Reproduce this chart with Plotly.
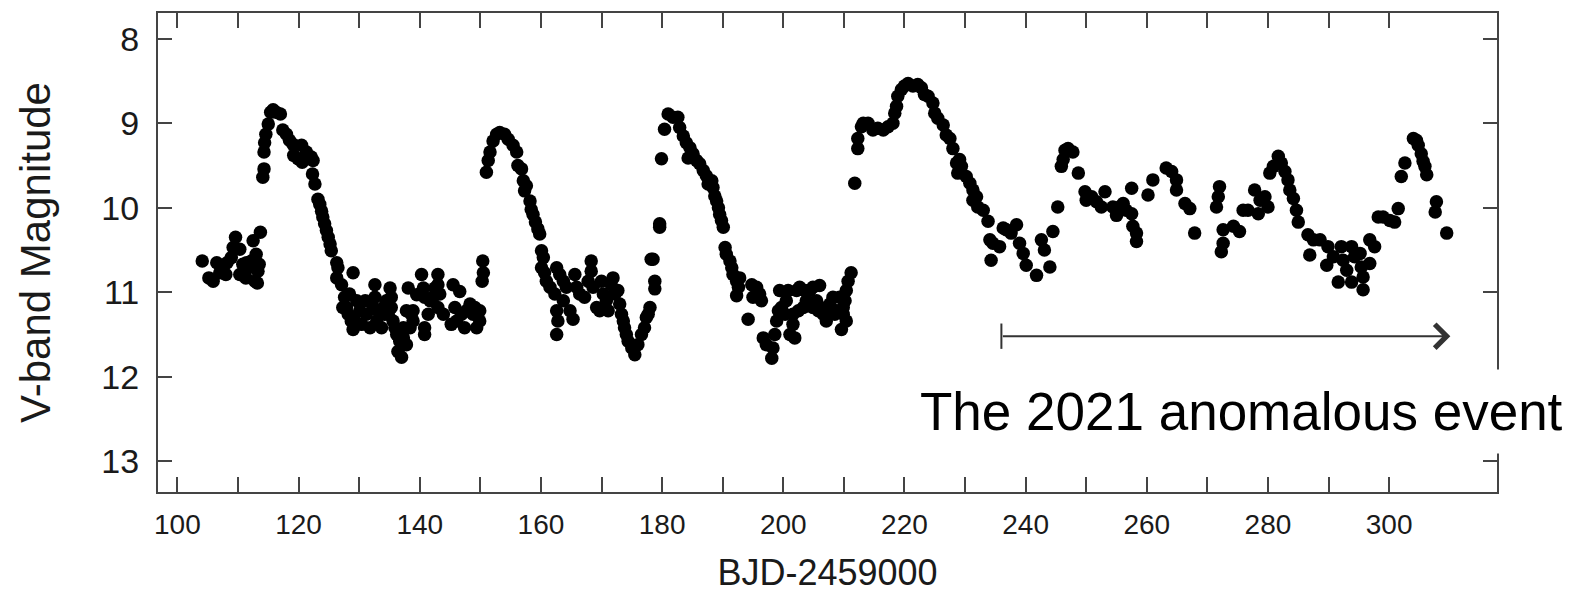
import plotly.graph_objects as go

# BJD-2459000 (days) and V-band magnitude
day = [
    104.1, 105.2, 105.9, 106.5, 107.0, 107.5, 108.0, 108.2, 108.9, 109.2, 109.6, 110.3, 110.3, 110.8,
    111.1, 111.3, 111.4, 111.7, 112.2, 112.5, 112.8, 113.0, 113.2, 113.3, 113.5, 113.7,
    114.1, 114.3, 114.3, 114.4, 114.6, 115.0, 115.4, 115.8, 116.3, 117.0,
    117.4, 118.0, 118.5, 119.1, 119.2, 119.9, 120.5, 120.6, 121.3, 122.1, 122.4, 122.3, 122.7,
    123.2, 123.5, 123.8, 124.0, 124.3, 124.6, 124.9, 125.2, 125.4, 126.3, 126.5, 126.3, 127.1,
    127.6, 129.0, 127.9, 128.2, 128.7, 129.0, 129.6, 130.1, 131.2, 131.8, 132.6, 132.6, 133.4,
    134.0, 134.8, 135.1, 135.3, 135.6, 136.2, 136.7, 136.4, 137.0, 137.3, 137.8, 137.8, 138.1,
    138.6, 138.9, 139.5, 140.3, 140.6, 140.8, 140.8, 141.4, 142.2, 143.0, 143.0, 143.0, 143.3,
    143.9, 145.2, 145.5, 145.8, 146.6, 146.9, 147.4, 148.3, 148.8, 149.4, 149.9, 149.9,
    127.3, 128.4, 129.3, 130.4, 131.0, 132.3, 132.9, 133.7, 134.2, 134.5, 135.3, 135.9, 137.3,
    138.4, 138.9, 140.8, 141.7, 142.5, 146.1, 147.7, 149.1,
    150.4, 150.5, 150.3,
    151.0, 151.3, 151.6, 152.1, 152.7, 153.2, 154.0, 154.6, 155.4, 156.0, 156.2, 156.8, 157.1,
    157.6, 157.3, 158.2, 158.4, 158.7, 159.1, 159.5, 159.8, 160.1, 160.4, 160.1, 160.6, 160.9,
    161.5, 162.6, 163.1, 162.3, 162.6, 162.8, 162.6, 163.7, 164.2, 163.7, 164.8, 165.3, 165.6,
    165.9, 166.4, 167.2, 167.8, 168.3, 168.3, 168.6, 169.2, 169.7, 170.0, 170.3, 170.8, 171.1,
    171.6, 171.9, 172.2, 172.7, 173.0, 173.3, 173.6, 173.8, 174.1, 174.4, 175.0, 175.5, 176.0,
    176.6, 177.1, 177.4, 178.0, 177.7, 178.8, 178.8, 178.5, 178.2, 179.6, 179.6, 179.9,
    180.4, 181.0, 181.8, 182.6, 182.9, 183.5, 184.0, 184.3, 184.6, 185.1, 185.7, 186.2, 186.8,
    187.3, 187.6, 188.2, 188.4, 188.7, 189.0, 189.3, 189.5, 189.8, 190.1, 190.4, 190.6, 191.2,
    191.5, 191.7, 192.3, 192.6, 192.3, 192.8, 194.8, 195.0, 195.6, 196.1, 196.4, 194.2, 196.7,
    197.2, 198.1, 198.3, 198.6, 198.9, 199.4, 199.7, 200.3, 200.8, 201.1, 201.6, 201.9, 202.2,
    202.7, 203.3, 203.8, 204.4, 204.9, 205.5, 206.0, 206.6, 207.1, 207.7, 208.2, 208.8, 209.3,
    209.6, 209.9, 210.4, 210.7, 211.2,
    199.2, 200.5, 201.6, 202.5, 203.6, 204.9, 205.8, 207.1, 208.5, 209.9, 210.4, 210.2,
    211.8, 212.3, 212.3, 212.9, 213.2, 214.0, 214.8, 215.6, 216.5, 217.3, 218.1, 218.4, 218.7,
    218.9, 219.5, 220.0, 220.6, 221.4, 222.2, 222.8, 223.3, 223.9, 224.7, 225.0, 225.5, 226.4,
    226.9, 227.5, 228.0, 228.6, 229.1, 229.4, 228.8, 230.2, 230.8, 231.3, 231.9, 231.3, 232.1,
    233.0, 233.8, 234.1, 234.6, 234.3, 235.7, 236.3, 236.8, 237.6, 238.5, 239.0, 239.6, 240.1,
    241.8, 242.6, 243.1, 244.0, 244.5, 245.3, 245.9, 246.2, 246.5, 247.0, 247.8, 248.7, 249.8,
    250.0, 250.9, 251.7, 252.5, 253.1, 254.4, 255.0, 255.5, 256.1, 256.6, 257.5, 257.5, 257.7,
    258.3, 258.3, 260.2, 261.0, 263.2, 264.1, 264.9, 264.9, 266.3, 267.1, 267.9,
    272.0, 271.8, 271.5, 272.6, 272.6, 272.3, 274.3, 275.3, 275.9, 276.7, 277.8, 278.4, 278.7,
    279.5, 280.0, 280.3, 280.9, 281.7, 282.2, 282.8, 283.3, 283.6, 284.2, 284.7, 285.0, 286.6,
    287.5, 286.9, 288.6, 289.9, 289.7, 290.8, 291.6, 292.1, 292.4, 293.0, 293.8, 293.8, 294.3,
    295.2, 295.4, 295.7, 295.7, 296.8, 296.8, 297.6, 298.2, 299.0, 300.1, 300.9, 301.5, 302.0,
    302.6, 304.0, 304.5, 304.8, 305.3, 305.6, 305.9, 306.2, 307.8, 307.6, 309.5,
]
vmag = [
    10.63, 10.83, 10.87, 10.65, 10.77, 10.72, 10.79, 10.65, 10.59, 10.47, 10.35, 10.49, 10.79, 10.67,
    10.78, 10.83, 10.65, 10.71, 10.63, 10.39, 10.87, 10.55, 10.89, 10.75, 10.67, 10.29,
    9.64, 9.54, 9.34, 9.23, 9.13, 9.01, 8.87, 8.84, 8.87, 8.89,
    9.08, 9.13, 9.20, 9.25, 9.38, 9.42, 9.26, 9.46, 9.34, 9.40, 9.44, 9.60, 9.72,
    9.90, 9.96, 10.04, 10.11, 10.19, 10.27, 10.35, 10.43, 10.51, 10.65, 10.71, 10.83, 10.91,
    11.06, 10.77, 11.18, 11.26, 11.34, 11.44, 11.10, 11.22, 11.26, 11.42, 10.91, 11.06, 11.26,
    11.18, 11.26, 10.95, 11.06, 11.34, 11.50, 11.58, 11.70, 11.77, 11.42, 11.62, 11.22, 10.95,
    11.26, 11.34, 11.03, 10.79, 10.95, 11.42, 11.50, 11.26, 11.06, 10.79, 10.91, 11.18, 11.02,
    11.26, 11.38, 10.91, 11.18, 10.99, 11.26, 11.42, 11.14, 11.26, 11.42, 11.22, 11.34,
    11.18, 11.02, 11.34, 11.38, 11.10, 11.18, 11.34, 11.42, 11.26, 11.10, 11.18, 11.42, 11.54,
    11.42, 11.22, 11.06, 11.10, 10.95, 11.34, 11.22, 11.18,
    10.63, 10.77, 10.87,
    9.58, 9.44, 9.34, 9.21, 9.13, 9.11, 9.13, 9.19, 9.26, 9.34, 9.50, 9.54, 9.68,
    9.74, 9.80, 9.92, 10.02, 10.08, 10.17, 10.25, 10.31, 10.51, 10.59, 10.71, 10.77, 10.87,
    10.94, 10.71, 10.79, 11.02, 11.22, 11.34, 11.50, 10.87, 10.94, 11.10, 11.22, 11.32, 10.79,
    10.94, 11.02, 11.06, 10.87, 10.63, 10.75, 10.94, 11.18, 11.22, 10.87, 11.02, 11.10, 11.22,
    10.91, 10.83, 11.02, 10.98, 11.14, 11.26, 11.34, 11.42, 11.50, 11.58, 11.66, 11.74, 11.62,
    11.50, 11.42, 11.30, 11.18, 11.26, 10.96, 10.87, 10.61, 10.61, 10.19, 10.23, 9.42,
    9.07, 8.89, 8.93, 8.93, 9.05, 9.15, 9.23, 9.41, 9.29, 9.36, 9.44, 9.48, 9.56,
    9.62, 9.72, 9.68, 9.76, 9.86, 9.92, 10.00, 10.08, 10.15, 10.23, 10.47, 10.55, 10.63,
    10.71, 10.79, 10.87, 10.94, 11.04, 10.83, 10.91, 11.06, 10.94, 11.02, 11.10, 11.32, 11.54,
    11.62, 11.78, 11.66, 11.50, 11.34, 10.98, 11.18, 11.26, 10.98, 11.50, 11.38, 11.54, 10.98,
    10.94, 11.18, 11.10, 10.98, 11.18, 11.10, 10.92, 11.26, 11.34, 11.14, 11.06, 11.22, 11.06,
    11.44, 11.26, 10.98, 10.87, 10.77,
    11.22, 11.10, 11.26, 11.22, 10.98, 10.94, 11.22, 11.18, 11.26, 11.18, 11.34, 11.10,
    9.71, 9.30, 9.18, 9.04, 9.00, 9.00, 9.08, 9.06, 9.08, 9.04, 9.00, 8.88, 8.80,
    8.68, 8.60, 8.56, 8.53, 8.56, 8.54, 8.58, 8.66, 8.68, 8.76, 8.88, 8.94, 9.02,
    9.14, 9.18, 9.30, 9.47, 9.43, 9.51, 9.59, 9.63, 9.71, 9.79, 9.87, 9.91, 9.99,
    10.03, 10.16, 10.38, 10.42, 10.62, 10.46, 10.24, 10.26, 10.30, 10.20, 10.42, 10.54, 10.68,
    10.80, 10.38, 10.50, 10.70, 10.28, 9.99, 9.51, 9.43, 9.32, 9.30, 9.34, 9.59, 9.81,
    9.91, 9.87, 9.93, 9.99, 9.81, 9.99, 10.09, 9.99, 9.95, 10.03, 9.77, 10.07, 10.22,
    10.30, 10.40, 9.85, 9.67, 9.53, 9.57, 9.67, 9.79, 9.95, 10.01, 10.30,
    9.75, 9.87, 9.99, 10.26, 10.42, 10.52, 10.22, 10.28, 10.03, 10.03, 9.79, 10.07, 9.91,
    9.87, 9.99, 9.59, 9.51, 9.39, 9.47, 9.57, 9.67, 9.79, 9.89, 10.03, 10.17, 10.32,
    10.38, 10.56, 10.38, 10.46, 10.68, 10.58, 10.88, 10.46, 10.62, 10.74, 10.46, 10.88, 10.58,
    10.54, 10.70, 10.97, 10.82, 10.66, 10.38, 10.46, 10.11, 10.11, 10.15, 10.17, 10.01, 9.63,
    9.47, 9.18, 9.20, 9.26, 9.36, 9.45, 9.51, 9.61, 9.93, 10.05, 10.30,
]

x_ticks = list(range(100, 301, 10))
x_ticktext = [str(v) if v % 20 == 0 else "" for v in x_ticks]
y_ticks = [8, 9, 10, 11, 12, 13]

event_start, event_end, event_mag = 236.0, 310.1, 11.52
event_label = "The 2021 anomalous event"

FONT = "Liberation Sans, Arial, Helvetica, sans-serif"
AX = "#444444"

fig = go.Figure()
fig.add_trace(go.Scatter(
    x=day, y=vmag, mode="markers",
    marker=dict(color="black", size=13.5, line=dict(width=0)),
    showlegend=False, hoverinfo="skip",
))

fig.update_layout(
    width=1593, height=593,
    margin=dict(l=158, r=96, t=13, b=101, autoexpand=False),
    paper_bgcolor="white", plot_bgcolor="white",
    font=dict(family=FONT, color="#1a1a1a"),
    xaxis=dict(
        range=[96.8, 317.8], tickmode="array", tickvals=x_ticks, ticktext=x_ticktext,
        ticks="inside", ticklen=15, tickwidth=2, tickcolor=AX,
        showline=True, linecolor=AX, linewidth=2, mirror="ticks",
        showgrid=False, zeroline=False, automargin=False,
        tickfont=dict(size=28, family=FONT, color="#1a1a1a"),
        ticklabelstandoff=6,
        title=dict(text="BJD-2459000", font=dict(size=36, family=FONT, color="#1a1a1a"), standoff=30),
    ),
    yaxis=dict(
        range=[13.364, 7.695], tickmode="array", tickvals=y_ticks,
        ticks="inside", ticklen=14, tickwidth=2, tickcolor=AX,
        showline=True, linecolor=AX, linewidth=2, mirror="ticks",
        showgrid=False, zeroline=False, automargin=False,
        tickfont=dict(size=34, family=FONT, color="#1a1a1a"),
        ticklabelstandoff=10,
        title=dict(text="V-band Magnitude", font=dict(size=42, family=FONT, color="#1a1a1a"), standoff=38),
    ),
)

# arrow marking the event
fig.add_annotation(
    x=event_end, y=event_mag, ax=event_start, ay=event_mag,
    xref="x", yref="y", axref="x", ayref="y",
    showarrow=True, arrowhead=4, arrowsize=2.3, arrowwidth=2, arrowcolor="#333333",
    text="",
)
fig.add_shape(
    type="line", xref="x", yref="y",
    x0=event_start, x1=event_start, y0=event_mag - 0.15, y1=event_mag + 0.15,
    line=dict(color="#333333", width=2),
)
fig.add_annotation(
    x=275.67, y=12.41, xref="x", yref="y", showarrow=False,
    text=event_label, font=dict(size=53, family=FONT, color="black"),
    bgcolor="white", borderpad=12, xanchor="center", yanchor="middle",
)

fig.write_html("out.html")
